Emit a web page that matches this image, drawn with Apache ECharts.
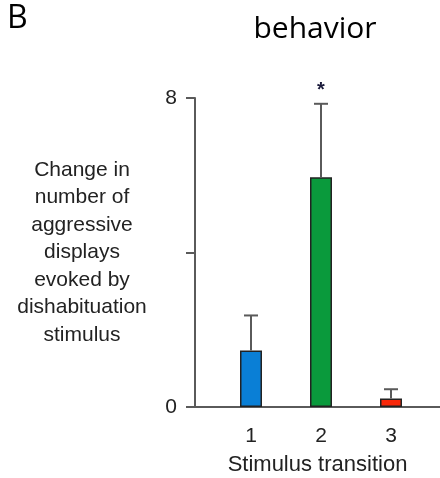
<!DOCTYPE html>
<html>
<head>
<meta charset="utf-8">
<script src="https://cdn.jsdelivr.net/npm/echarts@6/dist/echarts.min.js"></script>
<style>
  html, body { margin: 0; padding: 0; background: #fff; }
  #chart { width: 440px; height: 478px; }
</style>
</head>
<body>
<div id="chart"></div>
<script>
// data
const transitions = [1, 2, 3]
const means = [1.46, 5.95, 0.22]
const errTops = [2.37, 7.85, 0.46]
const stars = ['', '*', '']
const barColors = ['#0a7fd6', '#0a9a3c', '#f8280a']
const yTickLabels = { 0: '0', 8: '8' }

const chart = echarts.init(document.getElementById('chart'))
const axisGrey = '#5a5a5a'
const helv = '"Liberation Sans", Arial, sans-serif'

chart.setOption({
  animation: false,
  title: [{
    text: 'B',
    left: 2,
    top: -2,
    textStyle: { fontFamily: '"Open Sans", sans-serif', fontSize: 32, fontWeight: 'normal', color: '#000' }
  }, {
    text: 'behavior',
    left: 310,
    top: 9,
    textAlign: 'center',
    textStyle: { fontFamily: '"Open Sans", sans-serif', fontSize: 30, fontWeight: 'normal', color: '#000' }
  }],
  grid: {
    left: 195,
    right: 0,
    top: 98,
    bottom: 71,
    outerBoundsMode: 'none'
  },
  xAxis: {
    type: 'value',
    min: 0.2,
    max: 3.7,
    name: 'Stimulus transition',
    nameLocation: 'middle',
    nameGap: 47,
    nameTextStyle: { fontFamily: helv, fontSize: 22, color: '#222' },
    axisLine: { show: true, lineStyle: { color: axisGrey, width: 2 } },
    axisTick: { show: false },
    splitLine: { show: false },
    axisLabel: {
      customValues: transitions,
      margin: 19,
      fontFamily: helv,
      fontSize: 21,
      color: '#222'
    }
  },
  yAxis: {
    type: 'value',
    min: 0,
    max: 8,
    interval: 4,
    name: 'Change in\nnumber of\naggressive\ndisplays\nevoked by\ndishabituation\nstimulus',
    nameLocation: 'middle',
    nameRotate: 0,
    nameGap: 113,
    nameTextStyle: {
      fontFamily: helv,
      fontSize: 21,
      lineHeight: 27.5,
      color: '#222',
      align: 'center',
      verticalAlign: 'middle'
    },
    axisLine: { show: true, lineStyle: { color: axisGrey, width: 2 } },
    axisTick: { show: true, inside: false, length: 9, lineStyle: { color: axisGrey, width: 2 } },
    splitLine: { show: false },
    axisLabel: {
      margin: 18,
      fontFamily: helv,
      fontSize: 21,
      color: '#222',
      formatter: function (v) { return yTickLabels[v] || '' }
    }
  },
  series: [{
    type: 'bar',
    barWidth: 22,
    data: transitions.map(function (t, i) {
      return {
        value: [t, means[i]],
        itemStyle: { color: barColors[i], borderColor: '#222', borderWidth: 1.5 }
      }
    }),
    z: 2
  }, {
    type: 'custom',
    z: 3,
    data: transitions.map(function (t, i) { return [t, means[i], errTops[i], i] }),
    renderItem: function (params, api) {
      const base = api.coord([api.value(0), api.value(1)])
      const top = api.coord([api.value(0), api.value(2)])
      const idx = api.value(3)
      const style = { stroke: axisGrey, lineWidth: 2 }
      const children = [{
        type: 'line',
        shape: { x1: base[0], y1: base[1], x2: top[0], y2: top[1] },
        style: style
      }, {
        type: 'line',
        shape: { x1: top[0] - 7, y1: top[1], x2: top[0] + 7, y2: top[1] },
        style: style
      }]
      if (stars[idx]) {
        children.push({
          type: 'text',
          style: {
            text: stars[idx],
            x: top[0],
            y: top[1] - 3,
            align: 'center',
            verticalAlign: 'bottom',
            font: 'bold 20px ' + helv,
            fill: '#1a1a3a'
          }
        })
      }
      return { type: 'group', children: children }
    }
  }]
})
</script>
</body>
</html>
